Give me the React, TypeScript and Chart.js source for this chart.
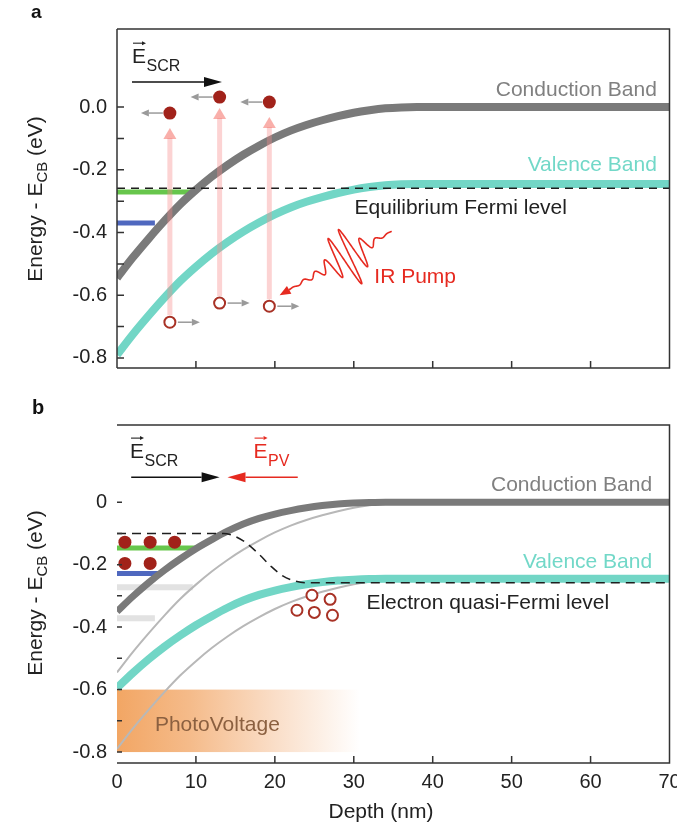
import React, { useEffect, useRef } from "react";
import { Chart, registerables } from "chart.js";

Chart.register(...registerables);

const FONT = '"Liberation Sans", Arial, Helvetica, sans-serif';

// ---------- shared axis ticks ----------
const X_TICKS = [0, 10, 20, 30, 40, 50, 60, 70];
const Y_TICKS = [-0.8, -0.6, -0.4, -0.2, 0];
const Y_LABELS_A = ["-0.8", "-0.6", "-0.4", "-0.2", "0.0"];
const Y_LABELS_B = ["-0.8", "-0.6", "-0.4", "-0.2", "0"];
const Y_MINOR = [-0.7, -0.5, -0.3, -0.1];

// ---------- panel a: equilibrium bands ----------
const DEPTH_A = [0, 2, 4, 6, 8, 10, 12, 14, 16, 18, 20, 22, 24, 26, 28, 30, 32, 34, 36, 38, 45, 50, 60, 70];
const CB_A = [-0.545, -0.48, -0.42, -0.363, -0.31, -0.264, -0.222, -0.185, -0.152, -0.123, -0.097, -0.075, -0.057, -0.042, -0.029, -0.018, -0.01, -0.004, -0.001, 0, 0, 0, 0, 0];
const VB_A = [-0.79, -0.725, -0.665, -0.608, -0.555, -0.509, -0.467, -0.43, -0.397, -0.368, -0.342, -0.32, -0.302, -0.287, -0.274, -0.263, -0.255, -0.249, -0.246, -0.245, -0.245, -0.245, -0.245, -0.245];
const FERMI_A_X = [0, 70];
const FERMI_A_Y = [-0.259, -0.259];
const GREEN_A_X = [0, 9.5];
const GREEN_A_Y = [-0.271, -0.271];
const BLUE_A_X = [0, 4.8];
const BLUE_A_Y = [-0.37, -0.37];
const ELECTRON_A_X = [6.7, 13.0, 19.3];
const ELECTRON_A_Y = [-0.019, 0.032, 0.016];
const HOLE_A_X = [6.7, 13.0, 19.3];
const HOLE_A_Y = [-0.686, -0.625, -0.635];
const PUMP_TIP_A_Y = [-0.067, -0.003, -0.032];

// ---------- panel b: under photovoltage ----------
const DEPTH_B = [0, 2, 4, 6, 8, 10, 12, 14, 16, 18, 20, 22, 24, 26, 28, 30, 32, 34, 40, 50, 60, 70];
const CB_B = [-0.35, -0.302, -0.258, -0.218, -0.182, -0.149, -0.12, -0.093, -0.07, -0.052, -0.038, -0.027, -0.018, -0.011, -0.006, -0.003, -0.001, 0, 0, 0, 0, 0];
const VB_B = [-0.595, -0.547, -0.503, -0.463, -0.427, -0.394, -0.365, -0.338, -0.315, -0.297, -0.283, -0.272, -0.263, -0.256, -0.251, -0.248, -0.246, -0.245, -0.245, -0.245, -0.245, -0.245];
const QFERMI_B_X = [0, 13.5, 15, 16.5, 18, 19.5, 21, 22.5, 24, 70];
const QFERMI_B_Y = [-0.1, -0.1, -0.11, -0.133, -0.167, -0.205, -0.236, -0.252, -0.258, -0.258];
const GREEN_B_X = [0, 10.3];
const GREEN_B_Y = [-0.147, -0.147];
const BLUE_B_X = [0, 5.4];
const BLUE_B_Y = [-0.228, -0.228];
const GHOST1_B_X = [0, 9.6];
const GHOST1_B_Y = [-0.272, -0.272];
const GHOST2_B_X = [0, 4.8];
const GHOST2_B_Y = [-0.372, -0.372];
const ELECTRON_B_X = [1.0, 4.2, 7.3, 1.0, 4.2];
const ELECTRON_B_Y = [-0.128, -0.128, -0.128, -0.196, -0.196];
const HOLE_B_X = [22.8, 24.7, 27.0, 25.0, 27.3];
const HOLE_B_Y = [-0.346, -0.298, -0.311, -0.353, -0.362];
const PV_X = [0, 30.8];
const PV_Y = [-0.6, -0.8];

// ---------- colours ----------
const GRAY = "#7a7a7a";
const TEAL = "#72d6c6";
const DARK = "#222222";
const RED = "#e62a20";
const DOT = "#a1221a";

const pts = (xs: number[], ys: number[]) => xs.map((x, i) => ({ x, y: ys[i] }));

function lineDs(data: any[], color: string, width: number, extra: any = {}) {
  return {
    data,
    borderColor: color,
    backgroundColor: color,
    borderWidth: width,
    pointRadius: 0,
    fill: false,
    cubicInterpolationMode: "monotone",
    ...extra,
  };
}

function arrow(ctx: CanvasRenderingContext2D, x1: number, y1: number, x2: number, y2: number, color: string, lw: number, hl: number, hw: number) {
  const a = Math.atan2(y2 - y1, x2 - x1);
  const bx = x2 - hl * Math.cos(a);
  const by = y2 - hl * Math.sin(a);
  ctx.save();
  ctx.strokeStyle = color;
  ctx.fillStyle = color;
  ctx.lineWidth = lw;
  ctx.beginPath();
  ctx.moveTo(x1, y1);
  ctx.lineTo(bx, by);
  ctx.stroke();
  ctx.beginPath();
  ctx.moveTo(x2, y2);
  ctx.lineTo(bx + hw * Math.sin(a), by - hw * Math.cos(a));
  ctx.lineTo(bx - hw * Math.sin(a), by + hw * Math.cos(a));
  ctx.closePath();
  ctx.fill();
  ctx.restore();
}

function text(ctx: CanvasRenderingContext2D, s: string, x: number, y: number, color: string, align: CanvasTextAlign, size = 21, weight = "normal") {
  ctx.save();
  ctx.font = `${weight} ${size}px ${FONT}`;
  ctx.fillStyle = color;
  ctx.textAlign = align;
  ctx.textBaseline = "middle";
  ctx.fillText(s, x, y);
  ctx.restore();
}

function vecLabel(ctx: CanvasRenderingContext2D, x: number, baseY: number, sub: string, color: string) {
  ctx.save();
  ctx.fillStyle = color;
  ctx.textAlign = "left";
  ctx.textBaseline = "alphabetic";
  ctx.font = `21px ${FONT}`;
  ctx.fillText("E", x, baseY);
  const w = ctx.measureText("E").width;
  ctx.font = `16px ${FONT}`;
  ctx.fillText(sub, x + w + 0.5, baseY + 8);
  ctx.restore();
  arrow(ctx, x + 1, baseY - 20, x + w, baseY - 20, color, 1.1, 4, 2);
}

function yTitle(ctx: CanvasRenderingContext2D, x: number, cy: number) {
  ctx.save();
  ctx.translate(x, cy);
  ctx.rotate(-Math.PI / 2);
  const f1 = `21px ${FONT}`;
  const f2 = `15px ${FONT}`;
  ctx.font = f1;
  const w1 = ctx.measureText("Energy - E").width;
  const w3 = ctx.measureText(" (eV)").width;
  ctx.font = f2;
  const w2 = ctx.measureText("CB").width;
  const x0 = -(w1 + w2 + w3) / 2;
  ctx.fillStyle = DARK;
  ctx.textAlign = "left";
  ctx.textBaseline = "alphabetic";
  ctx.font = f1;
  ctx.fillText("Energy - E", x0, 0);
  ctx.font = f2;
  ctx.fillText("CB", x0 + w1, 5);
  ctx.font = f1;
  ctx.fillText(" (eV)", x0 + w1 + w2, 0);
  ctx.restore();
}

function frame(chart: any, withLeft: boolean, tickLen: number) {
  const { ctx, chartArea } = chart;
  const { left, right, top, bottom } = chartArea;
  const X = (v: number) => chart.scales.x.getPixelForValue(v);
  const Y = (v: number) => chart.scales.y.getPixelForValue(v);
  ctx.save();
  ctx.strokeStyle = "#333";
  ctx.lineWidth = 1.5;
  ctx.beginPath();
  if (withLeft) {
    ctx.moveTo(left, top);
    ctx.lineTo(left, bottom);
  }
  ctx.moveTo(left, bottom);
  ctx.lineTo(right, bottom);
  ctx.lineTo(right, top);
  ctx.lineTo(left, top);
  X_TICKS.slice(1, -1).forEach((v) => {
    const x = X(v);
    ctx.moveTo(x, bottom);
    ctx.lineTo(x, bottom - 7);
  });
  [...Y_TICKS, ...Y_MINOR].forEach((v) => {
    const y = Y(v);
    ctx.moveTo(left, y);
    ctx.lineTo(left + tickLen, y);
  });
  ctx.stroke();
  ctx.restore();
}

function squiggle(ctx: CanvasRenderingContext2D, sx: number, sy: number, tx: number, ty: number) {
  const dx = tx - sx;
  const dy = ty - sy;
  const L = Math.hypot(dx, dy);
  const ux = dx / L;
  const uy = dy / L;
  const nx = -uy;
  const ny = ux;
  const head = 11;
  const Lw = L - head;
  ctx.save();
  ctx.strokeStyle = RED;
  ctx.lineWidth = 1.6;
  ctx.lineJoin = "round";
  ctx.beginPath();
  for (let i = 0; i <= 800; i++) {
    const t = i / 800;
    const s = t * Lw;
    const env = 27 * Math.exp(-Math.pow((t - 0.43) / 0.14, 2)) + 4 * Math.sin(Math.PI * t);
    const off = env * Math.sin(2 * Math.PI * 8.5 * t);
    const px = sx + ux * s + nx * off;
    const py = sy + uy * s + ny * off;
    if (i === 0) ctx.moveTo(px, py);
    else ctx.lineTo(px, py);
  }
  ctx.stroke();
  ctx.restore();
  arrow(ctx, sx + ux * (Lw - 1), sy + uy * (Lw - 1), tx, ty, RED, 1.6, 11, 4.5);
}

function scalesFor(yMin: number, yMax: number, xH: number, showX: boolean, yLabels: string[]) {
  return {
    x: {
      type: "linear",
      min: 0,
      max: 70,
      grid: { display: false, drawTicks: false },
      border: { display: false },
      ticks: {
        display: showX,
        padding: 7,
        color: DARK,
        font: { family: FONT, size: 20 },
        maxRotation: 0,
        autoSkip: false,
        callback: (v: any) => String(v),
      },
      afterBuildTicks: (s: any) => {
        s.ticks = X_TICKS.map((v) => ({ value: v }));
      },
      afterFit: (s: any) => {
        s.height = xH;
        s.paddingLeft = 0;
        s.paddingRight = 0;
      },
    },
    y: {
      type: "linear",
      min: yMin,
      max: yMax,
      grid: { display: false, drawTicks: false },
      border: { display: false },
      ticks: {
        padding: 10,
        color: DARK,
        font: { family: FONT, size: 20 },
        autoSkip: false,
        callback: (_v: any, i: number) => yLabels[i],
      },
      afterBuildTicks: (s: any) => {
        s.ticks = Y_TICKS.map((v) => ({ value: v }));
      },
      afterFit: (s: any) => {
        s.width = 117;
        s.paddingTop = 0;
        s.paddingBottom = 0;
      },
    },
  };
}

const panelAPlugin = {
  id: "panelA",
  afterDatasetsDraw(chart: any) {
    const ctx = chart.ctx;
    const X = (v: number) => chart.scales.x.getPixelForValue(v);
    const Y = (v: number) => chart.scales.y.getPixelForValue(v);
    // pump arrows (pink)
    HOLE_A_X.forEach((hx, i) => {
      const x = X(hx);
      const yb = Y(HOLE_A_Y[i]) - 7;
      const yt = Y(PUMP_TIP_A_Y[i]);
      ctx.save();
      ctx.strokeStyle = "rgba(247,140,140,0.38)";
      ctx.lineWidth = 5;
      ctx.beginPath();
      ctx.moveTo(x, yb);
      ctx.lineTo(x, yt + 10);
      ctx.stroke();
      ctx.fillStyle = "rgba(244,110,100,0.55)";
      ctx.beginPath();
      ctx.moveTo(x, yt);
      ctx.lineTo(x - 6.5, yt + 11);
      ctx.lineTo(x + 6.5, yt + 11);
      ctx.closePath();
      ctx.fill();
      ctx.restore();
    });
    // electron drift (left) and hole drift (right)
    ELECTRON_A_X.forEach((ex, i) => {
      const y = Y(ELECTRON_A_Y[i]);
      arrow(ctx, X(ex) - 7, y, X(ex) - 29, y, "#9a9a9a", 1.5, 8, 3.5);
    });
    HOLE_A_X.forEach((hx, i) => {
      const y = Y(HOLE_A_Y[i]);
      arrow(ctx, X(hx) + 8, y, X(hx) + 30, y, "#9a9a9a", 1.5, 8, 3.5);
    });
    // IR pump
    squiggle(ctx, X(34.8), Y(-0.396), X(20.6), Y(-0.6));
  },
  afterDraw(chart: any) {
    const ctx = chart.ctx;
    const X = (v: number) => chart.scales.x.getPixelForValue(v);
    const Y = (v: number) => chart.scales.y.getPixelForValue(v);
    frame(chart, true, 7);
    text(ctx, "a", 31, 13, "#111", "left", 19, "bold");
    yTitle(ctx, 42, 199);
    vecLabel(ctx, X(1.9), Y(0.14), "SCR", DARK);
    arrow(ctx, X(1.9), Y(0.08), X(13.3), Y(0.08), "#111", 1.5, 18, 5);
    text(ctx, "Conduction Band", X(68.4), Y(0.054), "#808080", "right");
    text(ctx, "Valence Band", X(68.4), Y(-0.185), "#72d8c8", "right");
    text(ctx, "Equilibrium Fermi level", X(30.1), Y(-0.322), DARK, "left");
    text(ctx, "IR Pump", X(32.6), Y(-0.542), RED, "left");
  },
};

const panelBPlugin = {
  id: "panelB",
  beforeDatasetsDraw(chart: any) {
    const ctx = chart.ctx;
    const X = (v: number) => chart.scales.x.getPixelForValue(v);
    const Y = (v: number) => chart.scales.y.getPixelForValue(v);
    const x0 = X(PV_X[0]);
    const x1 = X(PV_X[1]);
    const y0 = Y(PV_Y[0]);
    const y1 = Y(PV_Y[1]);
    const g = ctx.createLinearGradient(x0, 0, x1, 0);
    g.addColorStop(0, "rgb(242,166,100)");
    g.addColorStop(0.3, "rgb(245,187,138)");
    g.addColorStop(0.65, "rgb(250,222,200)");
    g.addColorStop(1, "rgb(255,255,255)");
    ctx.save();
    ctx.fillStyle = g;
    ctx.fillRect(x0, y0, x1 - x0, y1 - y0);
    ctx.restore();
  },
  afterDraw(chart: any) {
    const ctx = chart.ctx;
    const X = (v: number) => chart.scales.x.getPixelForValue(v);
    const Y = (v: number) => chart.scales.y.getPixelForValue(v);
    frame(chart, false, 5);
    text(ctx, "b", 32, 18, "#111", "left", 20, "bold");
    yTitle(ctx, 42, 203);
    vecLabel(ctx, X(1.65), Y(0.141), "SCR", DARK);
    arrow(ctx, X(1.8), Y(0.08), X(13.0), Y(0.08), "#111", 1.5, 18, 5);
    vecLabel(ctx, X(17.3), Y(0.141), "PV", RED);
    arrow(ctx, X(22.9), Y(0.08), X(14.0), Y(0.08), RED, 1.5, 18, 5);
    text(ctx, "Conduction Band", X(67.8), Y(0.054), "#808080", "right");
    text(ctx, "Valence Band", X(67.8), Y(-0.192), "#72d8c8", "right");
    text(ctx, "Electron quasi-Fermi level", X(31.6), Y(-0.324), DARK, "left");
    text(ctx, "PhotoVoltage", X(4.8), Y(-0.715), "#8b6040", "left");
    text(ctx, "Depth (nm)", 381, 422, DARK, "center", 21);
  },
};

function configA(): any {
  return {
    type: "line",
    data: {
      datasets: [
        { data: pts(ELECTRON_A_X, ELECTRON_A_Y), showLine: false, pointRadius: 6.5, pointBackgroundColor: DOT, pointBorderColor: DOT, borderWidth: 0 },
        { data: pts(HOLE_A_X, HOLE_A_Y), showLine: false, pointRadius: 5.5, pointBackgroundColor: "#fff", pointBorderColor: "#a83226", pointBorderWidth: 2 },
        lineDs(pts(FERMI_A_X, FERMI_A_Y), "#1e1e1e", 1.5, { borderDash: [8, 6] }),
        lineDs(pts(DEPTH_A, CB_A), GRAY, 8),
        lineDs(pts(DEPTH_A, VB_A), TEAL, 8),
        lineDs(pts(GREEN_A_X, GREEN_A_Y), "rgba(86,192,56,0.9)", 5),
        lineDs(pts(BLUE_A_X, BLUE_A_Y), "rgba(60,88,184,0.9)", 5),
      ],
    },
    options: {
      responsive: false,
      animation: false,
      devicePixelRatio: 1,
      layout: { padding: { top: 29, right: 7, left: 0, bottom: 0 } },
      plugins: { legend: { display: false }, tooltip: { enabled: false } },
      scales: scalesFor(-0.832, 0.249, 22, false, Y_LABELS_A),
    },
    plugins: [panelAPlugin],
  };
}

function configB(): any {
  return {
    type: "line",
    data: {
      datasets: [
        { data: pts(ELECTRON_B_X, ELECTRON_B_Y), showLine: false, pointRadius: 6.5, pointBackgroundColor: DOT, pointBorderColor: DOT, borderWidth: 0 },
        { data: pts(HOLE_B_X, HOLE_B_Y), showLine: false, pointRadius: 5.5, pointBackgroundColor: "#fff", pointBorderColor: "#a83226", pointBorderWidth: 2 },
        lineDs(pts(QFERMI_B_X, QFERMI_B_Y), "#1e1e1e", 1.5, { borderDash: [9, 6] }),
        lineDs(pts(DEPTH_B, CB_B), GRAY, 7),
        lineDs(pts(DEPTH_B, VB_B), TEAL, 8),
        lineDs(pts(DEPTH_A, CB_A), "#b8b8b8", 2),
        lineDs(pts(DEPTH_A, VB_A), "#b8b8b8", 2),
        lineDs(pts(GREEN_B_X, GREEN_B_Y), "rgba(86,192,56,0.9)", 5),
        lineDs(pts(BLUE_B_X, BLUE_B_Y), "rgba(60,88,184,0.9)", 5),
        lineDs(pts(GHOST1_B_X, GHOST1_B_Y), "rgba(190,190,190,0.45)", 6),
        lineDs(pts(GHOST2_B_X, GHOST2_B_Y), "rgba(190,190,190,0.45)", 6),
      ],
    },
    options: {
      responsive: false,
      animation: false,
      devicePixelRatio: 1,
      layout: { padding: { top: 35, right: 7, left: 0, bottom: 0 } },
      plugins: { legend: { display: false }, tooltip: { enabled: false } },
      scales: scalesFor(-0.835, 0.247, 64, true, Y_LABELS_B),
    },
    plugins: [panelBPlugin],
  };
}

export default function App() {
  const refA = useRef<HTMLCanvasElement>(null);
  const refB = useRef<HTMLCanvasElement>(null);
  useEffect(() => {
    const a = new Chart(refA.current as HTMLCanvasElement, configA());
    const b = new Chart(refB.current as HTMLCanvasElement, configB());
    return () => {
      a.destroy();
      b.destroy();
    };
  }, []);
  return (
    <div style={{ position: "absolute", left: 0, top: 0, width: 677, height: 827, background: "#fff" }}>
      <canvas ref={refA} width={677} height={390} style={{ position: "absolute", left: 0, top: 0, width: 677, height: 390 }} />
      <canvas ref={refB} width={677} height={437} style={{ position: "absolute", left: 0, top: 390, width: 677, height: 437 }} />
    </div>
  );
}
